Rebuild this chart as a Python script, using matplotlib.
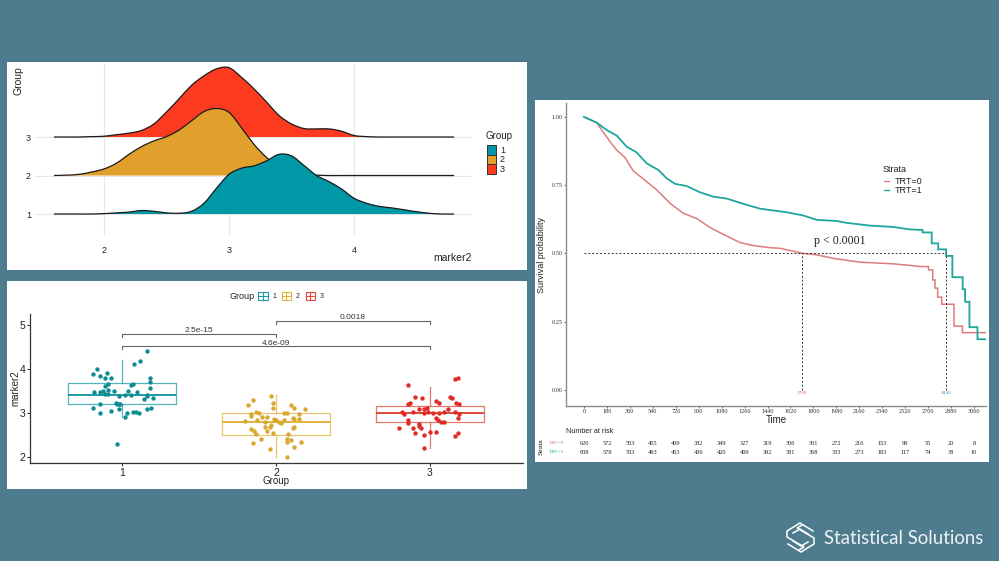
import matplotlib
matplotlib.use("Agg")
import matplotlib.pyplot as plt
from matplotlib.patches import Rectangle, PathPatch
from matplotlib.path import Path

plt.rcParams["font.family"] = ["Liberation Sans", "DejaVu Sans"]

W, H = 999, 561
BG = "#4e7b8e"
TEAL = "#0097a7"
GOLD = "#e0a02b"
RED = "#fb3a1f"

# ridgeline densities, one value per ridge_x
ridge_x = [1.6, 1.7, 1.8, 1.9, 2.0, 2.1, 2.2, 2.3, 2.4, 2.5, 2.6, 2.7, 2.8, 2.9, 3.0, 3.1, 3.2,
           3.3, 3.4, 3.5, 3.6, 3.7, 3.8, 3.9, 4.0, 4.1, 4.2, 4.3, 4.4, 4.5, 4.6, 4.7, 4.8]
ridge_1 = [0, 0, 0, 0, .01, .03, .05, .09, .07, .03, .02, .07, .28, .67, 1.03, 1.19, 1.25,
           1.38, 1.55, 1.51, 1.26, 1.00, .84, .65, .41, .28, .20, .16, .11, .06, .02, 0, 0]
ridge_2 = [0, .01, .03, .09, .17, .32, .55, .75, .90, 1.01, 1.18, 1.42, 1.66, 1.74, 1.64, 1.24, .81,
           .47, .23, .10, .03, .01, 0, 0, 0, 0, 0, 0, 0, 0, 0, 0, 0]
ridge_3 = [0, 0, 0, .01, .02, .06, .10, .17, .34, .65, .99, 1.34, 1.59, 1.77, 1.80, 1.55, 1.25,
           .91, .56, .34, .22, .21, .21, .15, .04, .01, 0, 0, 0, 0, 0, 0, 0]

# jittered box plot points: offset from the group position, marker2
g1_off = [.16, .12, .08, -.16, -.19, -.10, -.14, -.11, -.07, .18, .18, -.09, -.11, .07, .06, .18, -.09,
          -.12, -.05, -.18, -.14, .04, .10, -.11, -.09, .16, .16, -.02, .02, .06, .14, .20, -.04,
          -.03, -.02, -.01, -.14, -.19, .19, .16, -.02, -.14, -.07, .03, .07, .09, .11, .02, -.03]
g1_val = [4.40, 4.18, 4.12, 3.99, 3.89, 3.92, 3.83, 3.80, 3.80, 3.79, 3.71, 3.67, 3.62, 3.67, 3.64, 3.57, 3.52,
          3.51, 3.51, 3.48, 3.48, 3.50, 3.48, 3.43, 3.43, 3.42, 3.39, 3.39, 3.40, 3.42, 3.31, 3.33, 3.23,
          3.21, 3.20, 3.20, 3.21, 3.11, 3.12, 3.08, 3.08, 3.01, 3.04, 2.99, 3.02, 3.02, 3.01, 2.90, 2.30]
g2_off = [-.03, -.15, -.02, -.18, .10, -.02, .12, .19, -.13, -.11, -.16, -.16, .15, .05, .07, -.09, -.06,
          .11, .15, .12, -.01, -.20, -.12, -.07, .00, .02, .05, .03, -.07, -.04, -.03, .12, .11,
          -.16, -.14, -.06, -.13, -.02, .08, -.10, .07, .10, .07, .16, -.15, .12, -.04, .07]
g2_val = [3.39, 3.30, 3.23, 3.18, 3.18, 3.12, 3.11, 3.08, 3.02, 3.00, 2.98, 2.93, 2.98, 3.01, 3.01, 2.92, 2.92,
          2.89, 2.87, 2.86, 2.87, 2.82, 2.83, 2.80, 2.83, 2.80, 2.84, 2.78, 2.69, 2.69, 2.72, 2.69, 2.66,
          2.64, 2.59, 2.58, 2.53, 2.54, 2.52, 2.42, 2.40, 2.39, 2.33, 2.33, 2.31, 2.23, 2.18, 2.01]
g3_off = [-.14, .16, .18, -.10, -.05, .13, .14, .04, .06, -.14, -.13, .17, .19, -.07, -.04, -.02, -.18,
          -.17, -.11, -.04, -.01, .02, .06, .09, .12, .16, .19, .18, .04, .05, .07, .09,
          -.14, -.14, -.07, -.07, -.20, -.11, -.06, -.10, .00, .04, -.04, .18, .16, -.04]
g3_val = [3.63, 3.77, 3.79, 3.37, 3.33, 3.37, 3.33, 3.28, 3.23, 3.20, 3.23, 3.23, 3.21, 3.08, 3.09, 3.11, 3.02,
          2.98, 3.03, 3.01, 3.02, 2.99, 3.00, 3.02, 3.08, 3.02, 2.97, 2.89, 2.89, 2.84, 2.80, 2.79,
          2.84, 2.77, 2.76, 2.71, 2.67, 2.67, 2.67, 2.55, 2.57, 2.57, 2.50, 2.54, 2.48, 2.20]

# box statistics per group
box_q1 = [3.2, 2.5, 2.8]
box_med = [3.4, 2.8, 3.0]
box_q3 = [3.68, 3.0, 3.17]
box_lo = [2.9, 2.0, 2.2]
box_hi = [4.2, 3.4, 3.6]
p_labels = ["2.5e-15", "0.0018", "4.6e-09"]
p_from = [1, 2, 1]
p_to = [2, 3, 3]
p_y = [4.8, 5.1, 4.52]

# survival curves, repeated times make the vertical drops
km0_t = [0, 100, 139, 204, 256, 322, 387, 466, 570, 675, 780, 884, 989, 1093, 1224, 1329, 1460, 1538,
         1721, 1826, 1956, 2166, 2428, 2585, 2637, 2703, 2703, 2736, 2736, 2754, 2754, 2775, 2775,
         2807, 2807, 2903, 2903, 2969, 2969, 3154]
km0_s = [1.0, .979, .952, .910, .879, .851, .802, .773, .733, .684, .647, .628, .595, .570, .540, .529, .521, .519,
         .500, .495, .482, .468, .462, .455, .452, .452, .440, .440, .403, .403, .373, .373, .340,
         .340, .314, .314, .234, .234, .210, .210]
km1_t = [0, 100, 178, 256, 335, 413, 492, 583, 649, 714, 806, 910, 1015, 1120, 1277, 1381, 1590,
         1721, 1826, 1983, 2061, 2244, 2428, 2558, 2656, 2656, 2728, 2728, 2779, 2779, 2841, 2841,
         2890, 2890, 2971, 2971, 2990, 2990, 3024, 3024, 3087, 3087, 3154]
km1_s = [1.0, .979, .952, .932, .891, .870, .830, .806, .775, .755, .747, .724, .708, .701, .678, .664, .651,
         .639, .623, .619, .612, .602, .597, .588, .586, .577, .577, .537, .537, .515, .515, .491,
         .491, .413, .413, .369, .369, .323, .323, .230, .230, .186, .186]
median_t = [1709, 2840]
median_labels = ["1709", "2840"]

risk_t = [0, 180, 360, 540, 720, 900, 1080, 1260, 1440, 1620, 1800, 1980, 2160, 2340, 2520, 2700, 2880, 3060]
risk_0 = [620, 572, 503, 455, 409, 382, 349, 327, 319, 306, 301, 272, 216, 153, 99, 55, 20, 8]
risk_1 = [608, 578, 533, 493, 453, 436, 420, 409, 392, 381, 368, 333, 273, 183, 117, 74, 38, 10]


def px_axes(fig, left, top, right, bottom):
    ax = fig.add_axes([left / W, 1 - bottom / H, (right - left) / W, (bottom - top) / H])
    ax.patch.set_alpha(0)
    return ax


def smooth_verts(xs, ys):
    # catmull-rom through the read points, as bezier segments
    verts = [(xs[0], ys[0])]
    codes = [Path.MOVETO]
    n = len(xs)
    for i in range(n - 1):
        a, b = max(i - 1, 0), min(i + 2, n - 1)
        verts.append((xs[i] + (xs[i + 1] - xs[a]) / 6, ys[i] + (ys[i + 1] - ys[a]) / 6))
        verts.append((xs[i + 1] - (xs[b] - xs[i]) / 6, ys[i + 1] - (ys[b] - ys[i]) / 6))
        verts.append((xs[i + 1], ys[i + 1]))
        codes += [Path.CURVE4] * 3
    return verts, codes


def ridge(ax, base, heights, color, z):
    ys = [base + h for h in heights]
    verts, codes = smooth_verts(ridge_x, ys)
    fill = Path(verts + [(ridge_x[-1], base), (ridge_x[0], base), (ridge_x[0], base)],
                codes + [Path.LINETO, Path.LINETO, Path.CLOSEPOLY])
    ax.add_patch(PathPatch(fill, facecolor=color, edgecolor="none", zorder=z))
    ax.add_patch(PathPatch(Path(verts, codes), facecolor="none", edgecolor="#1a1a1a", lw=0.9, zorder=z + 0.1))


fig = plt.figure(figsize=(W / 100, H / 100), dpi=100, facecolor=BG)

# full figure layer in pixel coordinates: panels, legends, logo
bg = fig.add_axes([0, 0, 1, 1])
bg.set_xlim(0, W)
bg.set_ylim(H, 0)
bg.axis("off")
for l, t, r, b in [(7, 62, 527, 270), (7, 281, 527, 489), (535, 100, 989, 462)]:
    bg.add_patch(Rectangle((l, t), r - l, b - t, facecolor="white", edgecolor="none"))

# ridgeline panel
ax1 = px_axes(fig, 35, 64, 471, 235)
ax1.set_xlim(1.448, 4.936)
ax1.set_ylim(0.455, 4.896)
ax1.set_xticks([2, 3, 4])
ax1.set_yticks([1, 2, 3])
ax1.grid(True, color="#e6e6e6", lw=0.8)
ax1.set_axisbelow(True)
ax1.tick_params(length=0, labelsize=6.5, colors="#222222")
ax1.tick_params(axis="x", pad=8)
ax1.tick_params(axis="y", pad=3)
for s in ax1.spines.values():
    s.set_visible(False)
ridge(ax1, 3, ridge_3, RED, 3)
ridge(ax1, 2, ridge_2, GOLD, 4)
ridge(ax1, 1, ridge_1, TEAL, 5)
bg.text(19, 66, "Group", rotation=90, ha="center", va="top", fontsize=7.5, color="#222222")
bg.text(472, 258, "marker2", ha="right", va="center", fontsize=7.5, color="#222222")
bg.text(486, 136, "Group", ha="left", va="center", fontsize=7, color="#222222")
for i, c in enumerate([TEAL, GOLD, RED]):
    bg.add_patch(Rectangle((487, 145 + i * 9.7), 9, 9.7, facecolor=c, edgecolor="#333333", lw=0.7))
    bg.text(500, 150 + i * 9.7, str(i + 1), ha="left", va="center", fontsize=6.5, color="#222222")

# box plot panel
ax2 = px_axes(fig, 30, 314, 523, 463)
ax2.set_xlim(0.403, 3.604)
ax2.set_ylim(1.864, 5.25)
box_cols = ["#1f9aa5", "#e3b23c", "#dd4a3a"]
pt_cols = ["#0e8c94", "#d9a92e", "#e02a25"]
groups = [(g1_off, g1_val), (g2_off, g2_val), (g3_off, g3_val)]
for i in range(3):
    stats = [{"med": box_med[i], "q1": box_q1[i], "q3": box_q3[i], "whislo": box_lo[i], "whishi": box_hi[i]}]
    ax2.bxp(stats, positions=[i + 1], widths=0.70, showcaps=False, showfliers=False,
            boxprops={"color": box_cols[i], "lw": 0.9, "alpha": 0.75},
            whiskerprops={"color": box_cols[i], "lw": 0.9, "alpha": 0.75},
            medianprops={"color": box_cols[i], "lw": 1.4})
    off, val = groups[i]
    ax2.scatter([i + 1 + o for o in off], val, s=10, color=pt_cols[i], lw=0, zorder=3)
for lab, x0, x1, y in zip(p_labels, p_from, p_to, p_y):
    ax2.plot([x0, x0, x1, x1], [y - 0.07, y, y, y - 0.07], color="#666666", lw=0.8)
    ax2.text((x0 + x1) / 2, y - 0.01, lab, ha="center", va="bottom", fontsize=6, color="#333333")
ax2.set_xticks([1, 2, 3])
ax2.set_xticklabels(["1", "2", "3"])
ax2.set_yticks([2, 3, 4, 5])
ax2.tick_params(length=2, width=0.7, labelsize=7.5, pad=1.5, colors="#222222")
for s in ["top", "right"]:
    ax2.spines[s].set_visible(False)
for s in ["left", "bottom"]:
    ax2.spines[s].set_linewidth(0.9)
    ax2.spines[s].set_color("#333333")
bg.text(276, 481, "Group", ha="center", va="center", fontsize=7, color="#222222")
bg.text(15, 388, "marker2", rotation=90, ha="center", va="center", fontsize=7, color="#222222")
bg.text(229, 296, "Group", ha="left", va="center", fontsize=6.5, color="#222222")
for x, lab, c in zip([258, 281.5, 305.5], ["1", "2", "3"], box_cols):
    bg.add_patch(Rectangle((x, 292), 9.5, 7.5, facecolor="white", edgecolor=c, lw=0.8))
    bg.plot([x, x + 9.5], [295.75, 295.75], color=c, lw=0.8)
    bg.plot([x + 4.75, x + 4.75], [292, 299.5], color=c, lw=0.8)
    bg.text(x + 16, 296, lab, ha="center", va="center", fontsize=5, color="#222222")

# survival panel
KM0 = "#dc7c7c"
KM1 = "#1fa69c"
ax3 = px_axes(fig, 566, 103, 986, 406)
ax3.set_xlim(-141, 3154)
ax3.set_ylim(-0.0586, 1.051)
ax3.plot(km0_t, km0_s, color=KM0, lw=1.1, solid_joinstyle="miter")
ax3.plot(km1_t, km1_s, color=KM1, lw=1.3, solid_joinstyle="miter")
ax3.plot([0, median_t[1]], [0.5, 0.5], color="#333333", lw=0.7, ls=(0, (2, 2)))
for t, lab, c in zip(median_t, median_labels, ["#d9605f", "#3f9fc4"]):
    ax3.plot([t, t], [0, 0.5], color="#333333", lw=0.7, ls=(0, (2, 2)))
    ax3.text(t, -0.003, lab, ha="center", va="top", fontsize=3.8, color=c, family="Liberation Serif")
ax3.set_xticks(risk_t)
ax3.set_yticks([0, 0.25, 0.5, 0.75, 1.0])
ax3.set_yticklabels(["0.00", "0.25", "0.50", "0.75", "1.00"], family="Liberation Serif")
ax3.set_xticklabels([str(t) for t in risk_t], family="Liberation Serif")
ax3.tick_params(length=1.5, width=0.5, labelsize=4.5, pad=0.8, colors="#333333")
for s in ["top", "right"]:
    ax3.spines[s].set_visible(False)
for s in ["left", "bottom"]:
    ax3.spines[s].set_linewidth(1.0)
    ax3.spines[s].set_color("#8a8a8a")
bg.text(541, 255, "Survival probability", rotation=90, ha="center", va="center", fontsize=6.5, color="#222222")
bg.text(776, 419.5, "Time", ha="center", va="center", fontsize=7, color="#222222")
bg.text(840, 241, "p < 0.0001", ha="center", va="center", fontsize=8.6, color="#222222", family="Liberation Serif")
bg.text(883, 169, "Strata", ha="left", va="center", fontsize=6.5, color="#222222")
for y, lab, c in [(181, "TRT=0", KM0), (190, "TRT=1", KM1)]:
    bg.plot([884, 889], [y, y], color=c, lw=1)
    bg.text(895, y, lab, ha="left", va="center", fontsize=6.5, color="#222222")

# number at risk table
bg.text(566, 431, "Number at risk", ha="left", va="center", fontsize=5.2, color="#222222")
bg.text(541, 447, "Strata", rotation=90, ha="center", va="center", fontsize=4.5, color="#222222")
bg.text(564, 443, "TRT=0", ha="right", va="center", fontsize=3.8, color=KM0, family="Liberation Serif")
bg.text(564, 452, "TRT=1", ha="right", va="center", fontsize=3.8, color=KM1, family="Liberation Serif")
for t, a, b in zip(risk_t, risk_0, risk_1):
    x = 584 + t / 180 * 22.94
    bg.text(x, 443, str(a), ha="center", va="center", fontsize=4.6, color="#222222", family="Liberation Serif")
    bg.text(x, 452, str(b), ha="center", va="center", fontsize=4.6, color="#222222", family="Liberation Serif")

# logo
logo_lines = [
    [(813, 531), (800, 523), (787, 531), (787, 537), (804, 547), (799, 550)],
    [(788, 544), (801, 552), (814, 544), (814, 538), (797, 528), (802, 525)],
    [(793, 533), (800, 529), (808, 534)],
    [(793, 541), (801, 546), (808, 542)],
]
for line in logo_lines:
    bg.plot([p[0] for p in line], [p[1] for p in line], color="white", lw=1.1, solid_joinstyle="miter")
bg.text(824, 539, "Statistical Solutions", ha="left", va="center", fontsize=13.4, color="#eef3f5", family="Lato")

fig.savefig("out.png", dpi=100, facecolor=BG)
